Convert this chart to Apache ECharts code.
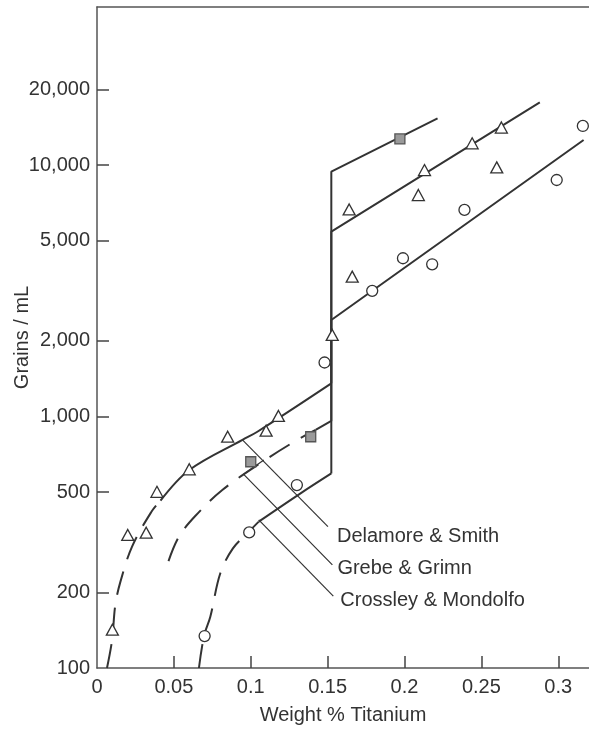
<!DOCTYPE html>
<html>
<head>
<meta charset="utf-8">
<script src="https://cdn.jsdelivr.net/npm/echarts@6/dist/echarts.min.js"></script>
<style>
  html, body { margin: 0; padding: 0; background: #fff; }
  #chart { width: 589px; height: 729px; }
</style>
</head>
<body>
<div id="chart"></div>
<script>
// Grain count vs titanium content (log scale), three studies.

// Axis ticks
const xTickValues = [0.05, 0.1, 0.15, 0.2, 0.25, 0.3];
const xLabelValues = [0, 0.05, 0.1, 0.15, 0.2, 0.25, 0.3];
const yTickValues = [200, 500, 1000, 2000, 5000, 10000, 20000];
const yLabelValues = [100, 200, 500, 1000, 2000, 5000, 10000, 20000];

// Measured points [wt% Ti, grains/mL]
const delamorePoints = [[0.010, 142], [0.020, 338], [0.032, 345], [0.039, 502], [0.060, 617],
  [0.085, 831], [0.110, 878], [0.118, 1005], [0.153, 2110], [0.166, 3600], [0.164, 6660],
  [0.209, 7600], [0.213, 9550], [0.244, 12200], [0.260, 9790], [0.263, 14100]];
const grebePoints = [[0.100, 661], [0.139, 831], [0.197, 12700]];
const crossleyPoints = [[0.070, 134], [0.099, 346], [0.130, 534], [0.148, 1640], [0.179, 3160],
  [0.199, 4260], [0.218, 4030], [0.239, 6630], [0.299, 8720], [0.316, 14300]];

// Fitted curves: dashed low-Ti part, solid part, then the jump and straight high-Ti line
const delamoreDashed = [[0.0065, 100], [0.0098, 129], [0.0119, 178], [0.0152, 220], [0.0228, 304],
  [0.0354, 418], [0.0413, 463]];
const delamoreSolid = [[0.0413, 463], [0.060, 613], [0.0946, 808], [0.1043, 870], [0.1524, 1355]];
const delamoreJump = [[0.1524, 1355], [0.1524, 5430], [0.288, 17760]];

const grebeDashed = [[0.0465, 266], [0.0533, 333], [0.0639, 402], [0.0815, 510], [0.1083, 665],
  [0.1302, 807], [0.1422, 884]];
const grebeJump = [[0.1422, 884], [0.1524, 960], [0.1524, 9405], [0.2215, 15340]];

const crossleyDashed = [[0.0663, 100], [0.0696, 134], [0.0737, 160], [0.0802, 238], [0.0884, 299],
  [0.0987, 348], [0.1052, 382]];
const crossleySolid = [[0.1052, 382], [0.1324, 495], [0.1524, 594]];
const crossleyJump = [[0.1524, 594], [0.1524, 2419], [0.3165, 12570]];

// Leader lines from each curve to its caption
const leaderDelamore = [[0.0946, 808], [0.1502, 365]];
const leaderGrebe = [[0.1085, 671], [0.0954, 589], [0.1531, 257]];
const leaderCrossley = [[0.1052, 388], [0.1537, 193]];
const captions = ['Delamore & Smith', 'Grebe & Grimn', 'Crossley & Mondolfo'];

const INK = '#333';
const FONT = '"Liberation Sans", Arial, Helvetica, sans-serif';

function curve(data, dashed, smooth) {
  return {
    type: 'line', data: data, symbol: 'none', silent: true, smooth: smooth ? 0.35 : false,
    lineStyle: { color: INK, width: 2, type: dashed ? [24, 13] : 'solid' },
    z: 2
  };
}
// A leader line whose end carries the study's caption
function leader(data, text, dist, dy) {
  return {
    type: 'line', data: data, symbol: 'none', silent: true,
    lineStyle: { color: INK, width: 1.2 }, z: 1,
    endLabel: {
      show: true, formatter: text, distance: dist, offset: [0, dy],
      color: INK, fontSize: 20, fontFamily: FONT
    }
  };
}
function markers(data, symbol, size, fill, border) {
  return {
    type: 'scatter', data: data, symbol: symbol, symbolSize: size, silent: true,
    itemStyle: { color: fill, borderColor: border, borderWidth: 1.3, opacity: 1 },
    z: 5
  };
}

const chart = echarts.init(document.getElementById('chart'));
chart.setOption({
  animation: false,
  backgroundColor: '#fff',
  grid: { left: 97, right: 0, top: 7, bottom: 61, containLabel: false, outerBoundsMode: 'none' },
  xAxis: [{
    type: 'value', min: 0, max: 0.32,
    name: 'Weight % Titanium', nameLocation: 'middle', nameGap: 37, nameMoveOverlap: false,
    nameTextStyle: { color: INK, fontSize: 20, fontFamily: FONT },
    axisLine: { show: true, lineStyle: { color: '#555', width: 1.5 } },
    axisTick: { show: true, inside: true, length: 12, customValues: xTickValues,
      lineStyle: { color: '#444', width: 1.5 } },
    axisLabel: { customValues: xLabelValues, color: INK, fontSize: 20, fontFamily: FONT, margin: 9,
      formatter: v => String(v) },
    splitLine: { show: false }
  }, {
    type: 'value', min: 0, max: 0.32, position: 'top',
    axisLine: { show: true, lineStyle: { color: '#555', width: 1.5 } },
    axisTick: { show: false }, axisLabel: { show: false }, splitLine: { show: false }
  }],
  yAxis: {
    type: 'log', logBase: 10, min: 100, max: 42500,
    name: 'Grains / mL', nameLocation: 'middle', nameGap: 65, nameMoveOverlap: false,
    nameTextStyle: { color: INK, fontSize: 20, fontFamily: FONT },
    axisLine: { show: true, lineStyle: { color: '#555', width: 1.5 } },
    axisTick: { show: true, inside: true, length: 12, customValues: yTickValues,
      lineStyle: { color: '#444', width: 1.5 } },
    axisLabel: { customValues: yLabelValues, color: INK, fontSize: 20, fontFamily: FONT, margin: 7,
      formatter: v => Number(v).toLocaleString('en-US') },
    splitLine: { show: false },
    minorTick: { show: false }
  },
  series: [
    curve(delamoreDashed, true, true),
    curve(delamoreSolid, false, true),
    curve(delamoreJump, false, false),
    curve(grebeDashed, true, true),
    curve(grebeJump, false, false),
    curve(crossleyDashed, true, true),
    curve(crossleySolid, false, true),
    curve(crossleyJump, false, false),
    leader(leaderDelamore, captions[0], 9, 10),
    leader(leaderGrebe, captions[1], 5, 4),
    leader(leaderCrossley, captions[2], 7, 4),
    markers(delamorePoints, 'triangle', [12, 11], '#fff', INK),
    markers(crossleyPoints, 'circle', 11, '#fff', INK),
    markers(grebePoints, 'rect', 10, '#9a9a9a', '#555')
  ]
});
</script>
</body>
</html>
